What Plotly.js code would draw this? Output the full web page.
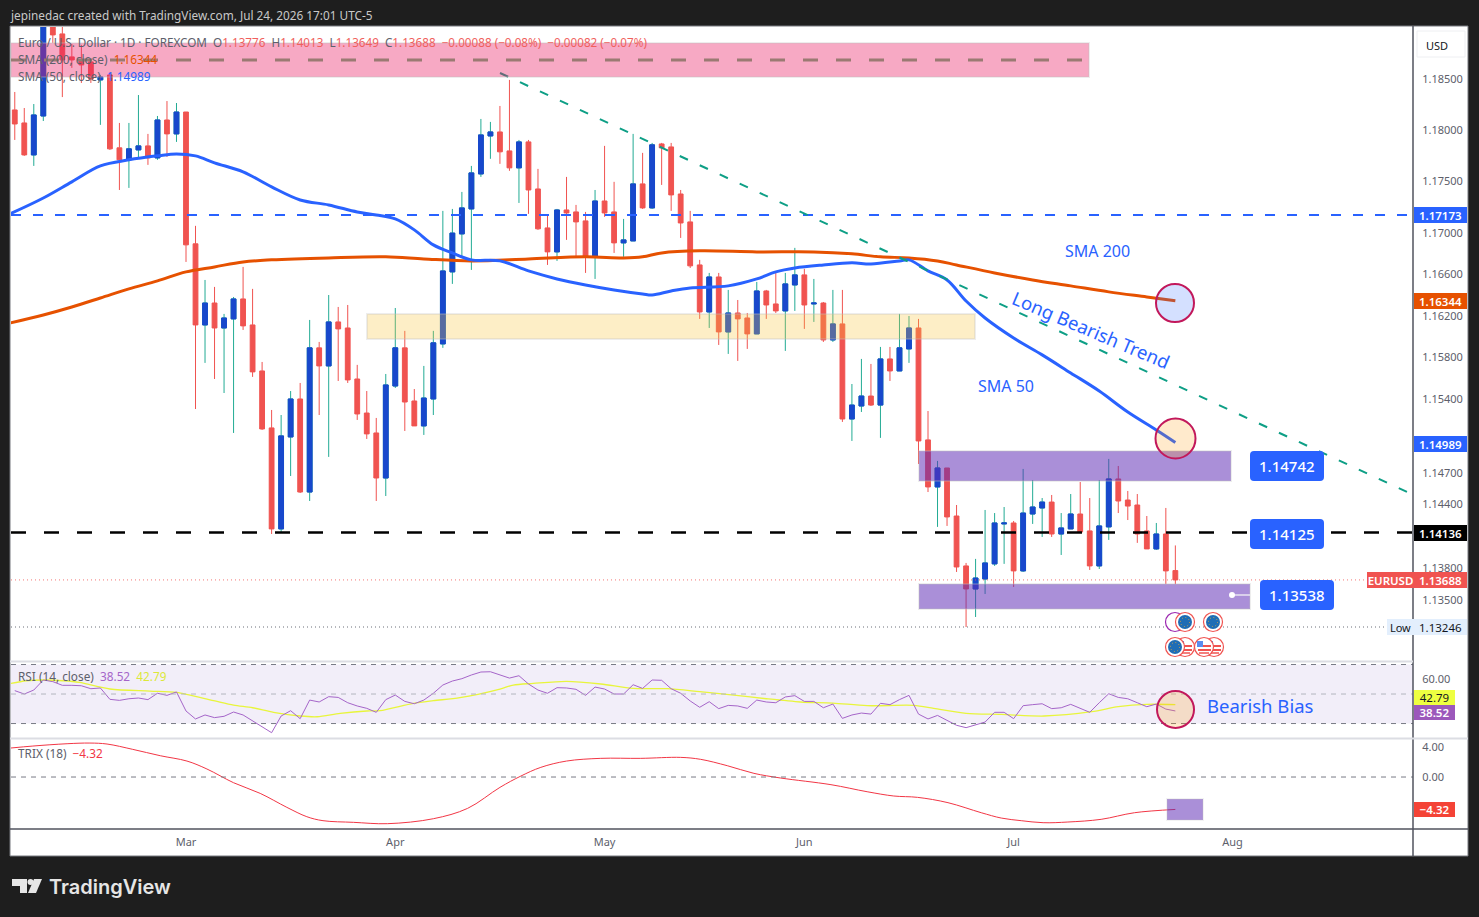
<!DOCTYPE html>
<html><head><meta charset="utf-8">
<script src="https://cdn.plot.ly/plotly-3.0.1.min.js"></script>
<style>html,body{margin:0;padding:0;background:#1e1e1e;overflow:hidden}#c{width:1479px;height:917px}</style>
</head><body><div id="c"></div>
<script>
// ---------- data ----------
const firstIndex = -18; // Mar 2 is trading-day 0
const opens = [1.18196,1.18069,1.17757,1.18137,1.19129,1.18942,1.18716,1.18686,1.18667,1.18490,1.18539,1.17826,1.17709,1.17806,1.17845,1.17728,1.18098,1.17962,
1.18176,1.16894,1.16112,1.16323,1.16083,1.16170,1.16362,1.16112,1.15671,1.15127,1.14169,1.15041,1.15403,1.14518,1.15892,1.15719,1.16141,1.16083,1.15594,1.15269,1.15079,1.14651,1.15527,1.15892,1.15384,1.15146,1.15403,1.15930,1.16623,1.16990,1.17232,1.17572,1.17942,1.17981,1.17796,1.17631,1.17884,1.17426,1.17048,1.16816,1.17222,1.17203,1.17116,1.16768,1.17309,1.17203,1.16903,1.16922,1.17475,1.17242,1.17864,1.17835,1.17377,1.17106,1.16690,1.16237,1.16574,1.16045,1.16227,1.16179,1.16026,1.16439,1.16314,1.16247,1.16497,1.16594,1.16314,1.16323,1.15968,1.16122,1.15212,1.15336,1.15431,1.15345,1.15786,1.15671,1.15882,1.16083,1.15013,1.14566,1.14746,1.14291,1.13820,1.13603,1.13697,1.13839,1.14216,1.14225,1.13773,1.14310,1.14367,1.14423,1.14121,1.14169,1.14310,1.14150,1.13820,1.14188,1.14642,1.14442,1.14395,1.14150,1.13980,1.14121,1.13776];
const highs = [1.18372,1.18215,1.18254,1.19227,1.19227,1.19079,1.18843,1.18834,1.18686,1.18539,1.18568,1.18069,1.18069,1.18342,1.17962,1.18137,1.18283,1.18264,
1.18176,1.17068,1.16545,1.16478,1.16218,1.16381,1.16671,1.16459,1.15757,1.15298,1.15250,1.15479,1.15556,1.16160,1.15949,1.16400,1.16285,1.16304,1.15729,1.15479,1.15222,1.15642,1.16275,1.16055,1.15498,1.15719,1.16055,1.17213,1.17232,1.17397,1.17650,1.18108,1.18079,1.18235,1.18490,1.17903,1.17903,1.17621,1.17174,1.17232,1.17543,1.17271,1.17203,1.17416,1.17845,1.17495,1.17135,1.17962,1.17777,1.17874,1.17874,1.17874,1.17416,1.17213,1.16739,1.16613,1.16613,1.16449,1.16352,1.16227,1.16526,1.16449,1.16613,1.16613,1.16855,1.16652,1.16555,1.16333,1.16449,1.16449,1.15546,1.15786,1.15738,1.15901,1.15901,1.16218,1.16198,1.16170,1.15288,1.14813,1.14746,1.14395,1.13848,1.13886,1.14348,1.14319,1.14376,1.14244,1.14737,1.14632,1.14461,1.14490,1.14319,1.14499,1.14613,1.14461,1.14632,1.14832,1.14765,1.14528,1.14499,1.14291,1.14225,1.14367,1.14013];
const lows = [1.17903,1.17748,1.17650,1.18088,1.18853,1.18322,1.18608,1.18460,1.18460,1.18050,1.17806,1.17416,1.17436,1.17728,1.17660,1.17709,1.17738,1.17884,
1.16719,1.15307,1.15748,1.15594,1.15460,1.15079,1.16064,1.15614,1.15108,1.14121,1.14140,1.14670,1.14509,1.14433,1.15250,1.14851,1.15575,1.15556,1.15203,1.15022,1.14433,1.14480,1.15508,1.15098,1.15146,1.15060,1.15250,1.15892,1.16507,1.16777,1.16642,1.17543,1.17719,1.17670,1.17602,1.17290,1.17184,1.17029,1.16690,1.16729,1.16932,1.16768,1.16613,1.16555,1.17155,1.16806,1.16768,1.16922,1.17232,1.17232,1.17465,1.17213,1.16951,1.16661,1.16170,1.16083,1.15920,1.15834,1.15767,1.15882,1.16026,1.16170,1.16227,1.15863,1.16247,1.16074,1.16141,1.15949,1.15949,1.15184,1.15003,1.15279,1.15336,1.15032,1.15575,1.15671,1.15748,1.14784,1.14518,1.14188,1.14197,1.13763,1.13246,1.13340,1.13556,1.13820,1.13839,1.13622,1.13763,1.14216,1.14093,1.14093,1.13923,1.14169,1.14140,1.13782,1.13791,1.14065,1.14319,1.14253,1.14037,1.13980,1.13971,1.13650,1.13649];
const closes = [1.18059,1.17757,1.18147,1.19178,1.18932,1.18686,1.18686,1.18637,1.18499,1.18519,1.17816,1.17709,1.17816,1.17845,1.17728,1.18098,1.17962,1.18176,
1.16884,1.16112,1.16323,1.16083,1.16179,1.16362,1.16103,1.15662,1.15117,1.14169,1.15051,1.15403,1.14518,1.15892,1.15719,1.16141,1.16074,1.15585,1.15260,1.15070,1.14651,1.15537,1.15892,1.15374,1.15146,1.15412,1.15940,1.16632,1.16998,1.17242,1.17582,1.17952,1.17981,1.17787,1.17631,1.17884,1.17416,1.17039,1.16816,1.17222,1.17193,1.17106,1.16768,1.17309,1.17193,1.16903,1.16932,1.17475,1.17242,1.17855,1.17826,1.17368,1.17096,1.16681,1.16237,1.16574,1.16045,1.16227,1.16170,1.16026,1.16439,1.16304,1.16247,1.16507,1.16594,1.16304,1.16323,1.15968,1.16122,1.15212,1.15345,1.15431,1.15345,1.15786,1.15671,1.15892,1.16083,1.15003,1.14566,1.14746,1.14282,1.13810,1.13603,1.13706,1.13848,1.14225,1.14225,1.13773,1.14319,1.14376,1.14423,1.14121,1.14178,1.14310,1.14140,1.13820,1.14197,1.14642,1.14433,1.14385,1.14121,1.13980,1.14121,1.13773,1.13688];

const sma50X = [-18.5,-15,-12,-9,-6,-3,-1,1,3,6,9,12,15,18,20,22,24,26,28,30,33,36,39,42,45,48,49,51,53,57,60,62,64,67,70,72,75,76,78,80,82,84,87,90,93,96,99,102,104];
const sma50Y = [1.17184,1.17338,1.17495,1.17650,1.17709,1.17748,1.17767,1.17748,1.17680,1.17592,1.17446,1.17319,1.17271,1.17203,1.17174,1.17135,1.17029,1.16884,1.16806,1.16739,1.16729,1.16632,1.16555,1.16497,1.16449,1.16410,1.16400,1.16439,1.16468,1.16488,1.16555,1.16623,1.16661,1.16690,1.16710,1.16700,1.16729,1.16739,1.16632,1.16545,1.16342,1.16179,1.15987,1.15825,1.15652,1.15479,1.15279,1.15108,1.14989];
const sma200X = [-18.5,-15,-12,-9,-6,-3,0,3,6,9,15,21,25,30,36,42,46,48,50,54,60,66,70,73,76,79,81,85,89,93,97,101,104];
const sma200Y = [1.16131,1.16208,1.16285,1.16371,1.16459,1.16536,1.16623,1.16671,1.16719,1.16739,1.16758,1.16768,1.16748,1.16729,1.16748,1.16768,1.16758,1.16768,1.16806,1.16826,1.16816,1.16816,1.16797,1.16768,1.16758,1.16729,1.16690,1.16613,1.16545,1.16488,1.16430,1.16381,1.16344];

const rsiValues = [52.3,50.0,52.7,59.5,58.4,55.9,55.9,55.6,53.6,54.1,46.4,45.7,46.8,47.3,46.2,50.5,49.1,51.4,
38.5,33.1,35.8,34.0,34.9,37.8,35.8,31.9,28.1,23.8,35.1,38.7,33.3,45.9,44.6,48.2,47.7,44.1,41.9,40.3,37.6,46.2,49.3,45.0,43.4,45.9,50.5,56.1,58.8,60.4,62.9,64.9,65.1,62.9,
60.8,62.4,56.8,52.7,50.5,54.3,54.1,53.2,49.1,54.7,53.4,50.0,50.0,56.3,53.8,59.5,59.3,53.6,50.5,45.3,41.0,44.8,40.1,42.3,41.9,40.3,45.9,44.6,44.1,48.0,48.9,45.0,45.0,40.7,43.2,33.5,35.8,37.1,36.4,43.7,42.8,46.2,49.1,36.4,33.1,35.5,32.4,28.8,27.2,29.0,31.0,37.6,37.6,33.3,42.1,42.8,43.4,40.1,40.7,43.0,40.3,37.6,44.1,50.2,47.7,46.8,44.1,41.4,43.2,39.8,38.52];
const rsiMaX = [-18.4,-16.8,-15,-12.9,-11.2,-8,-3.8,-1,2.9,5,7,9.2,12,13.8,16.2,19,20.4,23.9,26,28.8,33,34.4,36.5,40,43.6,47,50.6,54,57.6,61,64.6,68,71.6,76.5,78.6,82,85.7,90.2,95.2,98,101,104];
const rsiMaY = [57.2,59.0,59.5,59.0,57.9,53.4,52.0,51.1,45.5,42.5,40.7,37.6,35.1,34.6,36.9,38.5,38.7,43.7,45.5,47.5,53.4,56.1,57.2,58.6,56.8,53.8,53.6,51.6,49.3,46.8,44.6,43.9,42.1,42.3,40.3,36.9,36.2,35.1,38.0,41.4,43.0,42.79];
const trixX = [-18.4,-16.1,-12.5,-10.1,-8.3,-5.6,-2.7,0.1,2.2,5,7.8,10.6,12.7,14.4,17.6,21.2,26,29.6,33,35.2,37.3,40,43.6,47.8,52,54.1,56.9,59.7,62.5,67.8,71.6,74.4,76.9,80.1,83.6,85.7,87.8,90.1,92.7,96.2,99.7,104];
const trixY = [3.87,4.13,4.44,4.53,4.40,3.69,2.84,2.13,1.07,-0.76,-2.18,-4.04,-5.29,-5.82,-6.04,-6.22,-5.56,-4.18,-1.38,0.13,1.29,2.13,2.49,2.49,2.62,2.36,1.51,0.49,-0.13,-1.02,-1.96,-2.53,-2.71,-3.42,-4.76,-5.47,-5.82,-6.09,-6.00,-5.64,-4.76,-4.32];

const monthIndex = [0,22,44,65,87,110];
const monthLabels = ['Mar','Apr','May','Jun','Jul','Aug'];
const priceTicks = [1.185,1.18,1.175,1.17,1.166,1.162,1.158,1.154,1.147,1.144,1.138,1.135];
const priceTickLabels = ['1.18500','1.18000','1.17500','1.17000','1.16600','1.16200','1.15800','1.15400','1.14700','1.14400','1.13800','1.13500'];
const rsiTicks = [60]; const rsiTickLabels = ['60.00'];
const trixTicks = [4,0]; const trixTickLabels = ['4.00','0.00'];

const resistanceLevel = 1.17173, supportLevel = 1.14136, lastPrice = 1.13688, lowPrice = 1.13246;
const pinkZone = [1.18519,1.18853], yellowZone = [1.15978,1.16218], upperPurple = [1.14623,1.14908], lowerPurple = [1.13415,1.13650];
const trendStartPx = 500, trendEndPx = 1408, trendY = [1.18558,1.14515];

// ---------- helpers ----------
const L=11,R=1413,T=27,B=829;
const px=x=>(x-L)/(R-L), py=y=>(B-y)/(B-T);
const xs=opens.map((_,i)=>firstIndex+i);
const kx=x=>(x-186)/9.513;
const bullIdx=xs.map((_,i)=>i).filter(i=>closes[i]>=opens[i]);
const BLUE='#2962ff',RED='#f05350',TEAL='#22ab94',BODY='#1848cc',TXT='#5d606b';
const FONT='"Noto Sans",sans-serif';

const traces=[
 {type:'candlestick',x:xs,open:opens,high:highs,low:lows,close:closes,whiskerwidth:0,xaxis:'x',yaxis:'y',
  increasing:{line:{color:TEAL,width:1},fillcolor:BODY},decreasing:{line:{color:RED,width:1},fillcolor:RED},hoverinfo:'skip'},
 {type:'candlestick',x:bullIdx.map(i=>xs[i]),open:bullIdx.map(i=>opens[i]),close:bullIdx.map(i=>closes[i]),
  high:bullIdx.map(i=>closes[i]),low:bullIdx.map(i=>opens[i]),whiskerwidth:0,xaxis:'x',yaxis:'y',
  increasing:{line:{color:BODY,width:1},fillcolor:BODY},decreasing:{line:{color:BODY,width:1},fillcolor:BODY},hoverinfo:'skip'},
 {type:'scatter',mode:'lines',x:sma200X,y:sma200Y,line:{color:'#e65100',width:3,shape:'spline',smoothing:1},xaxis:'x',yaxis:'y',hoverinfo:'skip'},
 {type:'scatter',mode:'lines',x:sma50X,y:sma50Y,line:{color:BLUE,width:3,shape:'spline',smoothing:1},xaxis:'x',yaxis:'y',hoverinfo:'skip'},
 {type:'scatter',mode:'lines',x:rsiMaX,y:rsiMaY,line:{color:'#e8f53c',width:1.3,shape:'spline',smoothing:0.8},xaxis:'x',yaxis:'y2',hoverinfo:'skip'},
 {type:'scatter',mode:'lines',x:xs,y:rsiValues,line:{color:'#a565c9',width:1},xaxis:'x',yaxis:'y2',hoverinfo:'skip'},
 {type:'scatter',mode:'lines',x:trixX,y:trixY,line:{color:'#f23645',width:1,shape:'spline',smoothing:1},xaxis:'x',yaxis:'y3',hoverinfo:'skip'},
];

const paperRect=(x0,y0,x1,y1,fill,line,layer)=>({type:'rect',xref:'paper',yref:'paper',x0:px(x0),x1:px(x1),y0:py(y0),y1:py(y1),fillcolor:fill,line:line||{width:0},layer:layer||'above'});
const paperLine=(x0,y0,x1,y1,color,width,dash)=>({type:'line',xref:'paper',yref:'paper',x0:px(x0),x1:px(x1),y0:py(y0),y1:py(y1),line:{color,width,dash:dash||'solid'}});
const circle=(cx,cy,r,fill,lc,lw,dash)=>({type:'circle',xref:'paper',yref:'paper',x0:px(cx-r),x1:px(cx+r),y0:py(cy+r),y1:py(cy-r),fillcolor:fill,line:{color:lc,width:lw,dash:dash||'solid'}});
const roundRect=(x0,y0,x1,y1,r,fill)=>{
  const X=v=>px(v),Y=v=>py(v);
  return {type:'path',xref:'paper',yref:'paper',fillcolor:fill,line:{width:0},
  path:`M ${X(x0+r)} ${Y(y0)} L ${X(x1-r)} ${Y(y0)} Q ${X(x1)} ${Y(y0)} ${X(x1)} ${Y(y0+r)} L ${X(x1)} ${Y(y1-r)} Q ${X(x1)} ${Y(y1)} ${X(x1-r)} ${Y(y1)} L ${X(x0+r)} ${Y(y1)} Q ${X(x0)} ${Y(y1)} ${X(x0)} ${Y(y1-r)} L ${X(x0)} ${Y(y0+r)} Q ${X(x0)} ${Y(y0)} ${X(x0+r)} ${Y(y0)} Z`};
};
const poly=(pts,fill)=>({type:'path',xref:'paper',yref:'paper',fillcolor:fill,line:{width:0},
  path:'M '+pts.map(p=>px(p[0])+' '+py(p[1])).join(' L ')+' Z'});
const zone=(x0,x1,yy,fill,ref)=>({type:'rect',xref:'x',yref:ref||'y',x0,x1,y0:yy[0],y1:yy[1],fillcolor:fill,line:{color:'rgba(190,190,190,0.28)',width:2}});
const hline=(v,x0,x1,color,width,dash,yref)=>({type:'line',xref:'x',yref:yref||'y',x0,x1,y0:v,y1:v,line:{color,width,dash}});
const euFlag=(cx,cy)=>[circle(cx,cy,9.5,'#ffffff','#f05350',1.2),circle(cx,cy,7,'#1f6db5','#1f6db5',0),circle(cx,cy,4.5,'rgba(0,0,0,0)','#d9a441',1,'1px,2.5px')];
const usFlag=(cx,cy)=>[circle(cx,cy,9.5,'#ffffff','#f05350',1.2),
  paperLine(cx-6,cy+3,cx+7,cy+3,'#f05350',2),paperLine(cx-3,cy-1,cx+7,cy-1,'#f05350',2),paperLine(cx-5,cy+6,cx+5,cy+6,'#f05350',1.5),
  paperRect(cx-7,cy-6,cx-1,cy,'#5b8def')];

const X0=kx(11),X1=kx(1413);
const shapes=[
 paperRect(10,26,1468,856,'#ffffff',{color:'#77797f',width:1},'below'),
 {type:'rect',xref:'paper',yref:'y2',x0:0,x1:1,y0:30,y1:70,fillcolor:'rgba(126,87,194,0.1)',line:{width:0},layer:'below'},
 paperRect(1417,31,1465,57,'#ffffff',{color:'#eeeff2',width:1}),
 hline(resistanceLevel,X0,X1,BLUE,2,'10px,12px'),
 hline(supportLevel,X0,X1,'#000000',2.5,'15px,18px'),
 hline(lastPrice,X0,X1,'rgba(240,83,80,0.8)',1,'1px,3px'),
 hline(lowPrice,X0,kx(1386),'#6b6e78',1,'1px,3px'),
 {type:'line',xref:'x',yref:'y',x0:kx(trendStartPx),x1:kx(trendEndPx),y0:trendY[0],y1:trendY[1],line:{color:'#0e9f86',width:2,dash:'9px,13px'}},
 zone(X0,kx(1089),pinkZone,'rgba(233,30,99,0.38)'),
 hline(1.18686,X0,kx(1086),'#9a7a72',3,'15px,18px'),
 zone(kx(367),kx(975),yellowZone,'rgba(248,196,56,0.286)'),
 zone(kx(919),kx(1231),upperPurple,'rgba(94,43,181,0.53)'),
 zone(kx(919),kx(1250),lowerPurple,'rgba(94,43,181,0.53)'),
 paperLine(1232,595,1250,595,'#e8e4f2',1.5),
 circle(1232,595,3,'#ffffff','#ffffff',0),
 hline(70,X0,X1,'#787b86',1,'5px,5px','y2'),
 hline(50,X0,X1,'#b2b5be',1,'5px,5px','y2'),
 hline(30,X0,X1,'#787b86',1,'5px,5px','y2'),
 hline(0,X0,X1,'#787b86',1,'5px,5px','y3'),
 paperRect(1167,799,1203,820,'rgba(94,43,181,0.53)',{color:'rgba(190,190,190,0.2)',width:2}),
 circle(1175,303,19,'rgba(41,98,255,0.2)','#c2185b',2),
 circle(1175.5,438.5,20,'rgba(255,152,0,0.2)','#c2185b',2),
 circle(1175.5,709.5,18.5,'rgba(255,152,0,0.2)','#c2185b',2),
 circle(1175,622,9.5,'#ffffff','#9c27b0',1.2),
 ...euFlag(1185,622),...euFlag(1213,622),
 ...usFlag(1185,647),...euFlag(1175,647),...usFlag(1214,647),...usFlag(1204,647),
 roundRect(1250,451,1324,481,4,BLUE),
 roundRect(1250,519,1324,549,4,BLUE),
 roundRect(1260,580,1334,610,4,BLUE),
 paperLine(1413,26,1413,856,'#50535e',1.5),
 paperLine(10,661.5,1413,661.5,'#dcdde3',2),
 paperLine(10,738.5,1468,738.5,'#dcdde3',2),
 paperLine(10,829,1468,829,'#50535e',1.5),
 poly([[12,879],[27,879],[27,893],[20,893],[20,886],[12,886]],'#e6e6e6'),
 circle(30.5,882,3,'#e6e6e6','#e6e6e6',0),
 poly([[34,879],[42,879],[36,893],[28,893]],'#e6e6e6'),
];

const ann=(text,x,y,opts={})=>Object.assign({text,xref:'paper',yref:'paper',x:px(x),y:py(y),xanchor:'left',yanchor:'middle',showarrow:false,
  font:{family:FONT,size:11.8,color:TXT},borderpad:0,borderwidth:0},opts);
const tag=(text,y,bg,color,x0,x1,opts={})=>ann(text,x0,y,Object.assign({bgcolor:bg,width:x1-x0+2,height:16,align:'center',valign:'middle',
  font:{family:FONT,size:11.5,color:color,weight:600}},opts));
const big=(text,cx,cy,size,rot)=>ann(text,cx,cy,{xanchor:'center',font:{family:FONT,size,color:BLUE},textangle:rot||0});
const white=(text,cx,cy)=>ann(text,cx,cy,{xanchor:'center',font:{family:FONT,size:15,color:'#ffffff',weight:500}});
const rd=s=>`<span style="color:#f0605c">${s}</span>`;
const annotations=[
 ann('jepinedac created with TradingView.com, Jul 24, 2026 17:01 UTC-5',10,15,{font:{family:FONT,size:11.8,color:'#c9c9c9'}}),
 ann('Euro / U.S. Dollar · 1D · FOREXCOM  O'+rd('1.13776')+'  H'+rd('1.14013')+'  L'+rd('1.13649')+'  C'+rd('1.13688')+'  '+rd('−0.00088 (−0.08%)')+'  '+rd('−0.00082 (−0.07%)'),18,42,{font:{family:FONT,size:11.7,color:TXT}}),
 ann('SMA (200, close)  <span style="color:#e65100">1.16344</span>',18,59),
 ann('SMA (50, close)  <span style="color:#2962ff">1.14989</span>',18,76),
 ann('RSI (14, close)  <span style="color:#a565c9">38.52</span>  <span style="color:#dce83a">42.79</span>',18,676),
 ann('TRIX (18)  <span style="color:#f23645">−4.32</span>',18,753),
 ann('USD',1437,45,{xanchor:'center',font:{family:FONT,size:11,color:'#131722'}}),
 big('SMA 200',1097,251,16), big('SMA 50',1006,386,16),
 big('Long Bearish Trend',1091,329,18.5,23),
 big('Bearish Bias',1260,705,18.5),
 white('1.14742',1287,466), white('1.14125',1287,534), white('1.13538',1297,595),
 tag('1.17173',215,BLUE,'#fff',1414,1465),
 tag('1.16344',301,'#e65100','#fff',1414,1465),
 tag('1.14989',444,BLUE,'#fff',1414,1465),
 tag('1.14136',533,'#000000','#fff',1414,1465),
 tag('EURUSD',580,RED,'#fff',1367,1413,{width:47}),
 tag('1.13688',580,RED,'#fff',1414,1465),
 tag('Low',627,'#e3effd','#131722',1387,1413,{width:27,font:{family:FONT,size:11,color:'#131722'}}),
 tag('1.13246',627,'#e3effd','#131722',1414,1465,{font:{family:FONT,size:11.5,color:'#131722'}}),
 tag('42.79',697,'#eeff41','#131722',1414,1453,{height:15,font:{family:FONT,size:11.5,color:'#131722'}}),
 tag('38.52',712,'#9c58bb','#fff',1414,1453,{height:15}),
 tag('−4.32',809,'#f44336','#fff',1414,1453,{height:15}),
 ann('TradingView',49,887,{font:{family:'Inter,"Noto Sans",sans-serif',size:20,color:'#e6e6e6',weight:600}}),
];

const axisCommon={showgrid:false,zeroline:false,showline:false,side:'right',anchor:'x',ticks:'outside',ticklen:6,tickcolor:'rgba(0,0,0,0)',
  tickfont:{family:FONT,size:11,color:TXT},tickmode:'array'};
const layout={
 width:1479,height:917,margin:{l:L,r:1479-R,t:T,b:917-B,autoexpand:false},
 paper_bgcolor:'#1e1e1e',plot_bgcolor:'rgba(0,0,0,0)',showlegend:false,dragmode:false,boxgap:0.28,boxmode:'overlay',
 font:{family:FONT},
 xaxis:{type:'linear',range:[X0,X1],anchor:'y3',showgrid:false,zeroline:false,showline:false,rangeslider:{visible:false},
  tickmode:'array',tickvals:monthIndex,ticktext:monthLabels,ticks:'outside',ticklen:3,tickcolor:'rgba(0,0,0,0)',tickfont:{family:FONT,size:11,color:TXT}},
 yaxis:Object.assign({},axisCommon,{type:'log',domain:[py(661),1],range:[Math.log10(1.12928),Math.log10(1.1901)],tickvals:priceTicks,ticktext:priceTickLabels}),
 yaxis2:Object.assign({},axisCommon,{domain:[py(738),py(662)],range:[20.2,71.7],tickvals:rsiTicks,ticktext:rsiTickLabels}),
 yaxis3:Object.assign({},axisCommon,{domain:[0,py(739)],range:[-6.93,5.07],tickvals:trixTicks,ticktext:trixTickLabels}),
 shapes,annotations
};
Plotly.newPlot('c',traces,layout,{displayModeBar:false,staticPlot:true});
</script></body></html>
